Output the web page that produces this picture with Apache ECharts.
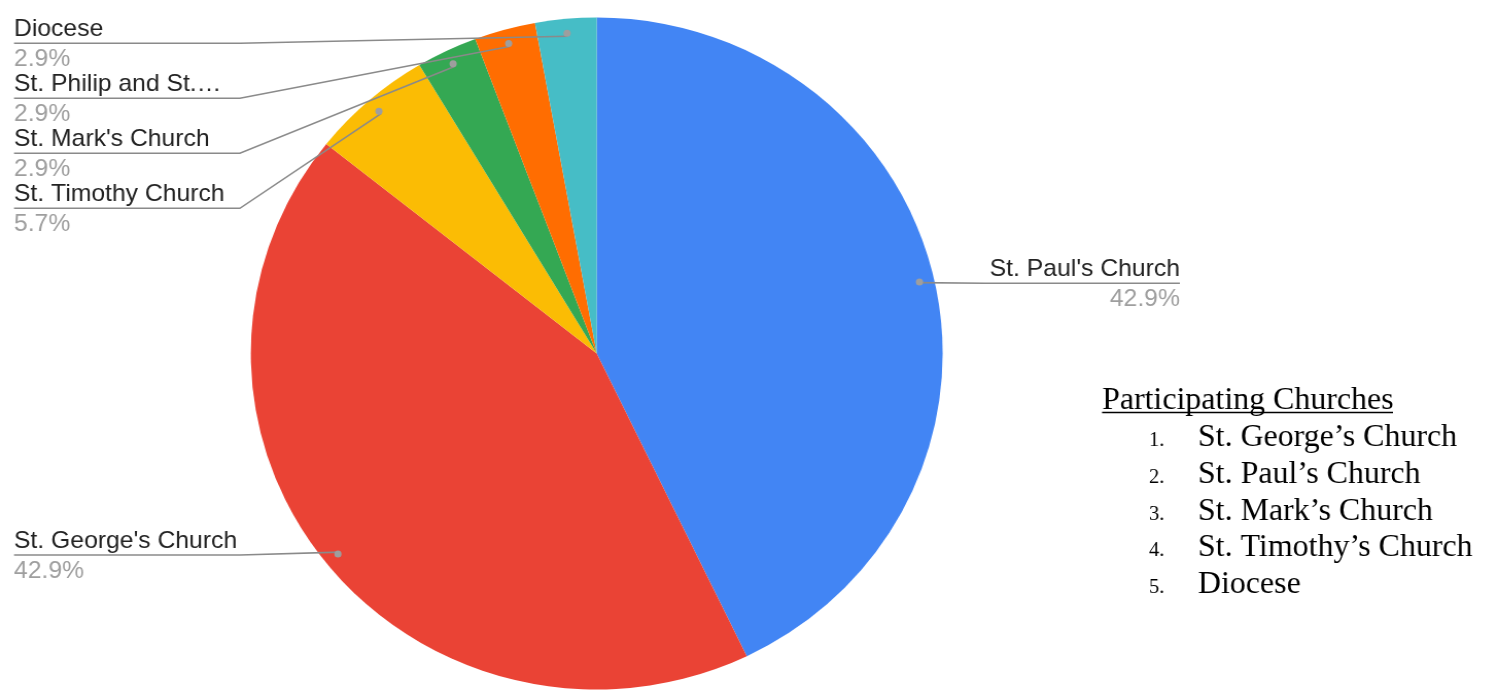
<!DOCTYPE html>
<html><head><meta charset="utf-8">
<script src="https://cdn.jsdelivr.net/npm/echarts@6/dist/echarts.min.js"></script>
<style>html,body{margin:0;padding:0;background:#fff;overflow:hidden}
#c{width:1455px;height:690px;transform:scaleX(1.02955);transform-origin:0 0}</style>
</head><body><div id="c"></div>
<script>
// ---- data ----
const categories = ["St. Paul's Church", "St. George's Church", "St. Timothy Church", "St. Mark's Church", "St. Philip and St.\u2026", "Diocese"];
const values = [15, 15, 2, 1, 1, 1];
const colors = ['#4285F4', '#EA4335', '#FBBC04', '#34A853', '#FF6D01', '#46BDC6'];
const listTitle = 'Participating Churches';
const listNumbers = ['1.', '2.', '3.', '4.', '5.'];
const listItems = ['St. George\u2019s Church', 'St. Paul\u2019s Church', 'St. Mark\u2019s Church', 'St. Timothy\u2019s Church', 'Diocese'];

// ---- layout / style ----
const CX = 579.6, CY = 353.5, R = 336, DOT = 0.948;
const labelY = [283.3, 555, 208.3, 153.3, 98.3, 43.3];
const TEXT_DY = 1.5;
const LEFT_X = 13.6, LEFT_ELBOW = 233, RIGHT_X = 1146, RIGHT_ELBOW = 957;

const total = values.reduce((a, b) => a + b, 0);
const pieData = categories.map((n, i) => ({ name: n, value: values[i], itemStyle: { color: colors[i] } }));
const ghostData = categories.map((n, i) => ({ name: n, value: values[i] }));

const chart = echarts.init(document.getElementById('c'));

const graphic = [];
const SHIFT = 3;
graphic.push({ type: 'text', x: 1070.4, y: 398 + SHIFT, style: { text: listTitle, font: '31px "Liberation Serif"', fill: '#000', verticalAlign: 'middle' } });
graphic.push({ type: 'line', shape: { x1: 1070.4, y1: 412.5, x2: 1353, y2: 412.5 }, style: { stroke: '#000', lineWidth: 1.5 } });
const baseY = 435 + SHIFT, stepY = 36.7;
listItems.forEach((t, i) => {
  graphic.push({ type: 'text', x: 1116, y: baseY + i * stepY + 3, style: { text: listNumbers[i], font: '20px "Liberation Serif"', fill: '#000', verticalAlign: 'middle' } });
  graphic.push({ type: 'text', x: 1163.6, y: baseY + i * stepY, style: { text: t, font: '31px "Liberation Serif"', fill: '#000', verticalAlign: 'middle' } });
});

chart.setOption({
  animation: false,
  graphic: graphic,
  series: [
    {
      type: 'pie',
      z: 2,
      center: [CX, CY],
      radius: R,
      startAngle: 90,
      clockwise: true,
      silent: true,
      emphasis: { disabled: true },
      data: pieData,
      label: { show: false },
      labelLine: { show: false }
    },
    {
      type: 'pie',
      z: 5,
      center: [CX, CY],
      radius: [R * DOT - 2, R * DOT],
      startAngle: 90,
      clockwise: true,
      silent: true,
      avoidLabelOverlap: false,
      emphasis: { disabled: true },
      data: ghostData,
      itemStyle: { color: 'rgba(0,0,0,0)' },
      label: {
        show: true,
        position: 'outside',
        formatter: p => '{n|' + p.name + '}\n{p|' + (p.value / total * 100).toFixed(1) + '%}',
        rich: {
          n: { fontSize: 24, color: '#222222', fontFamily: '"Liberation Sans", Arial', lineHeight: 30 },
          p: { fontSize: 24, color: '#9e9e9e', fontFamily: '"Liberation Sans", Arial', lineHeight: 30 }
        }
      },
      labelLine: { show: true, length: 10, length2: 10, lineStyle: { color: '#8a8a8a', width: 1.6 } },
      labelLayout: function (p) {
        const pts = p.labelLinePoints;
        if (!pts) return {};
        const d = pts[0];
        const right = d[0] > CX;
        const y = labelY[p.dataIndex];
        const x = right ? RIGHT_X : LEFT_X;
        return {
          x: x, y: y + TEXT_DY, align: right ? 'right' : 'left', verticalAlign: 'middle',
          labelLinePoints: [[d[0], d[1]], [right ? RIGHT_ELBOW : LEFT_ELBOW, y], [x, y]]
        };
      }
    },
    {
      type: 'pie',
      z: 6,
      center: [CX, CY],
      radius: [R * DOT - 1, R * DOT + 1],
      startAngle: 90,
      clockwise: true,
      silent: true,
      emphasis: { disabled: true },
      data: ghostData,
      itemStyle: { color: 'rgba(0,0,0,0)' },
      labelLine: { show: false },
      label: {
        show: true, position: 'inside', formatter: ' ', fontSize: 1,
        width: 7, height: 7, borderRadius: 3.5, backgroundColor: '#9e9e9e', padding: 0
      }
    }
  ]
});
</script></body></html>
